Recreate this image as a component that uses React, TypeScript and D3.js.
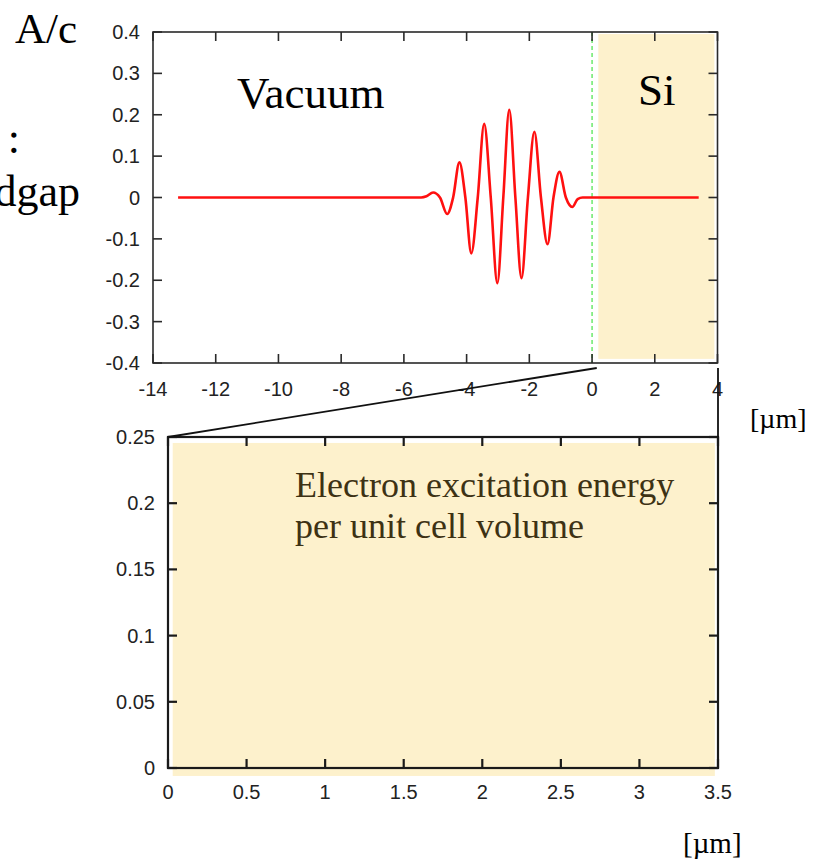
import React, { useEffect, useRef } from "react";
import * as d3 from "d3";

// Vector potential A/c of the incident pulse along the propagation axis [µm]
const fieldX = [
  -13.2, -5.45, -5.28, -5.07, -4.85, -4.62, -4.43, -4.23, -4.04, -3.85,
  -3.645, -3.44, -3.23, -3.02, -2.83, -2.64, -2.445, -2.25, -2.045, -1.84,
  -1.63, -1.42, -1.23, -1.04, -0.835, -0.63, -0.46, -0.3, 3.4,
];
const fieldA = [
  0, 0, 0.003, 0.012, 0, -0.04, 0, 0.085, 0, -0.135,
  0, 0.178, 0, -0.207, 0, 0.212, 0, -0.195, 0, 0.159,
  0, -0.113, 0, 0.062, 0, -0.023, -0.004, 0, 0,
];

const topXTicks = [-14, -12, -10, -8, -6, -4, -2, 0, 2, 4];
const topXLabels = ["-14", "-12", "-10", "-8", "-6", "-4", "-2", "0", "2", "4"];
const topYTicks = [0.4, 0.3, 0.2, 0.1, 0, -0.1, -0.2, -0.3, -0.4];
const topYLabels = ["0.4", "0.3", "0.2", "0.1", "0", "-0.1", "-0.2", "-0.3", "-0.4"];

const botXTicks = [0, 0.5, 1, 1.5, 2, 2.5, 3, 3.5];
const botXLabels = ["0", "0.5", "1", "1.5", "2", "2.5", "3", "3.5"];
const botYTicks = [0, 0.05, 0.1, 0.15, 0.2, 0.25];
const botYLabels = ["0", "0.05", "0.1", "0.15", "0.2", "0.25"];

// Silicon slab extents in each panel (data units)
const siTopX = [0.2, 3.9];
const siTopY = [-0.39, 0.395];
const siBotX = [0.03, 3.48];
const siBotY = [-0.006, 0.2455];

const SI_FILL = "#fdf1cc";
const SANS = "'Liberation Sans', Arial, Helvetica, sans-serif";
const SERIF = "'Liberation Serif', 'Times New Roman', Times, serif";

export default function App() {
  const ref = useRef<SVGSVGElement | null>(null);

  useEffect(() => {
    const svg = d3.select(ref.current);
    svg.selectAll("*").remove();

    // ---------- upper panel ----------
    const tx = d3.scaleLinear().domain([-14, 4]).range([153, 717.5]);
    const ty = d3.scaleLinear().domain([-0.4, 0.4]).range([363, 32]);

    const top = svg.append("g");
    top
      .append("rect")
      .attr("x", tx(siTopX[0]))
      .attr("y", ty(siTopY[1]))
      .attr("width", tx(siTopX[1]) - tx(siTopX[0]))
      .attr("height", ty(siTopY[0]) - ty(siTopY[1]))
      .attr("fill", SI_FILL);

    // interface marker at x = 0
    top
      .append("line")
      .attr("x1", tx(0))
      .attr("x2", tx(0))
      .attr("y1", ty(0.4))
      .attr("y2", ty(-0.4))
      .attr("stroke", "#22dd22")
      .attr("stroke-width", 1)
      .attr("stroke-dasharray", "4,3");

    const pts = fieldX.map((x, i) => [x, fieldA[i]] as [number, number]);
    const line = d3
      .line<[number, number]>()
      .x((d) => tx(d[0]))
      .y((d) => ty(d[1]))
      .curve(d3.curveMonotoneX);
    top
      .append("path")
      .attr("d", line(pts))
      .attr("fill", "none")
      .attr("stroke", "#ff1010")
      .attr("stroke-width", 2.6)
      .attr("stroke-linejoin", "round");

    const tick = 9;
    const topFrame = top.append("g").attr("stroke", "#2a2a2a").attr("stroke-width", 1.6);
    topXTicks.forEach((v) => {
      topFrame.append("line").attr("x1", tx(v)).attr("x2", tx(v)).attr("y1", ty(-0.4)).attr("y2", ty(-0.4) - tick);
      topFrame.append("line").attr("x1", tx(v)).attr("x2", tx(v)).attr("y1", ty(0.4)).attr("y2", ty(0.4) + tick);
    });
    topYTicks.forEach((v) => {
      topFrame.append("line").attr("x1", tx(-14)).attr("x2", tx(-14) + tick).attr("y1", ty(v)).attr("y2", ty(v));
      topFrame.append("line").attr("x1", tx(4)).attr("x2", tx(4) - tick).attr("y1", ty(v)).attr("y2", ty(v));
    });
    topFrame
      .append("rect")
      .attr("x", tx(-14))
      .attr("y", ty(0.4))
      .attr("width", tx(4) - tx(-14))
      .attr("height", ty(-0.4) - ty(0.4))
      .attr("fill", "none");

    const tl = top.append("g").attr("font-family", SANS).attr("font-size", 20).attr("fill", "#222");
    topXTicks.forEach((v, i) => {
      tl.append("text").attr("x", tx(v)).attr("y", ty(-0.4) + 33).attr("text-anchor", "middle").text(topXLabels[i]);
    });
    topYTicks.forEach((v, i) => {
      tl.append("text").attr("x", tx(-14) - 13).attr("y", ty(v) + 7).attr("text-anchor", "end").text(topYLabels[i]);
    });

    // ---------- lower panel (zoom on the Si slab) ----------
    const bx = d3.scaleLinear().domain([0, 3.5]).range([168, 718]);
    const by = d3.scaleLinear().domain([0, 0.25]).range([768, 437]);

    const bot = svg.append("g");
    bot
      .append("rect")
      .attr("x", bx(siBotX[0]))
      .attr("y", by(siBotY[1]))
      .attr("width", bx(siBotX[1]) - bx(siBotX[0]))
      .attr("height", by(siBotY[0]) - by(siBotY[1]))
      .attr("fill", SI_FILL);

    const botFrame = bot.append("g").attr("stroke", "#1a1a1a").attr("stroke-width", 2.2);
    botXTicks.forEach((v) => {
      botFrame.append("line").attr("x1", bx(v)).attr("x2", bx(v)).attr("y1", by(0)).attr("y2", by(0) - tick);
      botFrame.append("line").attr("x1", bx(v)).attr("x2", bx(v)).attr("y1", by(0.25)).attr("y2", by(0.25) + tick);
    });
    botYTicks.forEach((v) => {
      botFrame.append("line").attr("x1", bx(0)).attr("x2", bx(0) + tick).attr("y1", by(v)).attr("y2", by(v));
      botFrame.append("line").attr("x1", bx(3.5)).attr("x2", bx(3.5) - tick).attr("y1", by(v)).attr("y2", by(v));
    });
    botFrame
      .append("rect")
      .attr("x", bx(0))
      .attr("y", by(0.25))
      .attr("width", bx(3.5) - bx(0))
      .attr("height", by(0) - by(0.25))
      .attr("fill", "none");

    const bl = bot.append("g").attr("font-family", SANS).attr("font-size", 20).attr("fill", "#222");
    botXTicks.forEach((v, i) => {
      bl.append("text").attr("x", bx(v)).attr("y", by(0) + 31).attr("text-anchor", "middle").text(botXLabels[i]);
    });
    botYTicks.forEach((v, i) => {
      bl.append("text").attr("x", bx(0) - 13).attr("y", by(v) + 7).attr("text-anchor", "end").text(botYLabels[i]);
    });

    // zoom connectors between the panels
    const conn = svg.append("g").attr("stroke", "#111").attr("stroke-width", 1.8);
    conn
      .append("line")
      .attr("x1", tx(0.15))
      .attr("y1", ty(-0.4) + 5)
      .attr("x2", bx(0))
      .attr("y2", by(0.25));
    conn
      .append("line")
      .attr("x1", bx(3.5))
      .attr("y1", ty(-0.4) + 5)
      .attr("x2", bx(3.5))
      .attr("y2", by(0.25));

    // ---------- annotations ----------
    const ann = svg.append("g").attr("font-family", SERIF).attr("fill", "#000");
    ann.append("text").attr("x", 15).attr("y", 43).attr("font-size", 43).text("A/c");
    ann.append("text").attr("x", 20).attr("y", 153).attr("font-size", 44).attr("text-anchor", "end").text("eV :");
    ann.append("text").attr("x", 80).attr("y", 206).attr("font-size", 44).attr("text-anchor", "end").text("bandgap");
    ann.append("text").attr("x", 237).attr("y", 108).attr("font-size", 45).text("Vacuum");
    ann.append("text").attr("x", 638).attr("y", 105).attr("font-size", 45).text("Si");

    const el = svg.append("g").attr("font-family", SERIF).attr("font-size", 36).attr("fill", "#3d3214");
    el.append("text").attr("x", 295).attr("y", 497).text("Electron excitation energy");
    el.append("text").attr("x", 295).attr("y", 538).text("per unit cell volume");

    ann.append("text").attr("x", 750).attr("y", 428).attr("font-size", 28).text("[µm]");
    ann.append("text").attr("x", 683).attr("y", 853).attr("font-size", 29).text("[µm]");
  }, []);

  return (
    <svg
      ref={ref}
      width={816}
      height={863}
      style={{ position: "absolute", left: 0, top: 0, background: "#fff" }}
    />
  );
}
